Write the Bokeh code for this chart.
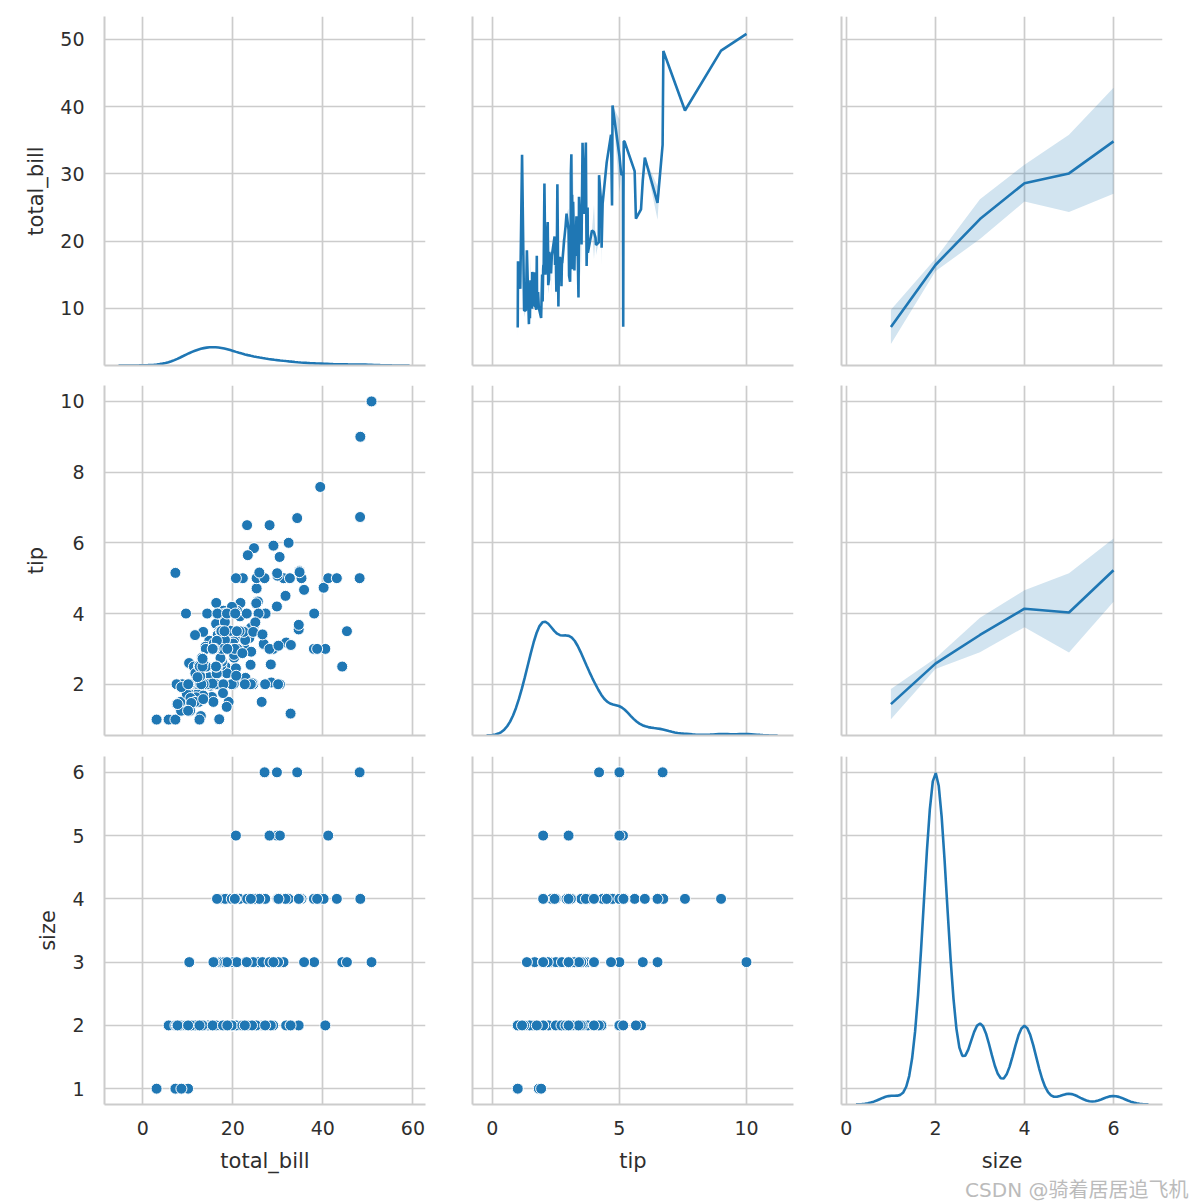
import numpy as np
from bokeh.plotting import figure
from bokeh.models import Range1d, FixedTicker, Title
from bokeh.layouts import column, row
from bokeh.embed import file_html
from bokeh.resources import INLINE

# ---------------- data (tips dataset, as shown in the picture) ----------------
total_bill = [
    16.99, 10.34, 21.01, 23.68, 24.59, 25.29, 8.77, 26.88, 15.04, 14.78,
    10.27, 35.26, 15.42, 18.43, 14.83, 21.58, 10.33, 16.29, 16.97, 20.65,
    17.92, 20.29, 15.77, 39.42, 19.82, 17.81, 13.37, 12.69, 21.70, 19.65,
    9.55, 18.35, 15.06, 20.69, 17.78, 24.06, 16.31, 16.93, 18.69, 31.27,
    16.04, 17.46, 13.94, 9.68, 30.40, 18.29, 22.23, 32.40, 28.55, 18.04,
    12.54, 10.29, 34.81, 9.94, 25.56, 19.49, 38.01, 26.41, 11.24, 48.27,
    20.29, 13.81, 11.02, 18.29, 17.59, 20.08, 16.45, 3.07, 20.23, 15.01,
    12.02, 17.07, 26.86, 25.28, 14.73, 10.51, 17.92, 27.20, 22.76, 17.29,
    19.44, 16.66, 10.07, 32.68, 15.98, 34.83, 13.03, 18.28, 24.71, 21.16,
    28.97, 22.49, 5.75, 16.32, 22.75, 40.17, 27.28, 12.03, 21.01, 12.46,
    11.35, 15.38, 44.30, 22.42, 20.92, 15.36, 20.49, 25.21, 18.24, 14.31,
    14.00, 7.25, 38.07, 23.95, 25.71, 17.31, 29.93, 10.65, 12.43, 24.08,
    11.69, 13.42, 14.26, 15.95, 12.48, 29.80, 8.52, 14.52, 11.38, 22.82,
    19.08, 20.27, 11.17, 12.26, 18.26, 8.51, 10.33, 14.15, 16.00, 13.16,
    17.47, 34.30, 41.19, 27.05, 16.43, 8.35, 18.64, 11.87, 9.78, 7.51,
    14.07, 13.13, 17.26, 24.55, 19.77, 29.85, 48.17, 25.00, 13.39, 16.49,
    21.50, 12.66, 16.21, 13.81, 17.51, 24.52, 20.76, 31.71, 10.59, 10.63,
    50.81, 15.81, 7.25, 31.85, 16.82, 32.90, 17.89, 14.48, 9.60, 34.63,
    34.65, 23.33, 45.35, 23.17, 40.55, 20.69, 20.90, 30.46, 18.15, 23.10,
    15.69, 19.81, 28.44, 15.48, 16.58, 7.56, 10.34, 43.11, 13.00, 13.51,
    18.71, 12.74, 13.00, 16.40, 20.53, 16.47, 26.59, 38.73, 24.27, 12.76,
    30.06, 25.89, 48.33, 13.27, 28.17, 12.90, 28.15, 11.59, 7.74, 30.14,
    12.16, 13.42, 8.58, 15.98, 13.42, 16.27, 10.09, 20.45, 13.28, 22.12,
    24.01, 15.69, 11.61, 10.77, 15.53, 10.07, 12.60, 32.83, 35.83, 29.03,
    27.18, 22.67, 17.82, 18.78,
]
tip = [
    1.01, 1.66, 3.50, 3.31, 3.61, 4.71, 2.00, 3.12, 1.96, 3.23,
    1.71, 5.00, 1.57, 3.00, 3.02, 3.92, 1.67, 3.71, 3.50, 3.35,
    4.08, 2.75, 2.23, 7.58, 3.18, 2.34, 2.00, 2.00, 4.30, 3.00,
    1.45, 2.50, 3.00, 2.45, 3.27, 3.60, 2.00, 3.07, 2.31, 5.00,
    2.24, 2.54, 3.06, 1.32, 5.60, 3.00, 5.00, 6.00, 2.05, 3.00,
    2.50, 2.60, 5.20, 1.56, 4.34, 3.51, 3.00, 1.50, 1.76, 6.73,
    3.21, 2.00, 1.98, 3.76, 2.64, 3.15, 2.47, 1.00, 2.01, 2.09,
    1.97, 3.00, 3.14, 5.00, 2.20, 1.25, 3.08, 4.00, 3.00, 2.71,
    3.00, 3.40, 1.83, 5.00, 2.03, 5.17, 2.00, 4.00, 5.85, 3.00,
    3.00, 3.50, 1.00, 4.30, 3.25, 4.73, 4.00, 1.50, 3.00, 1.50,
    2.50, 3.00, 2.50, 3.48, 4.08, 1.64, 4.06, 4.29, 3.76, 4.00,
    3.00, 1.00, 4.00, 2.55, 4.00, 3.50, 5.07, 1.50, 1.80, 2.92,
    2.31, 1.68, 2.50, 2.00, 2.52, 4.20, 1.48, 2.00, 2.00, 2.18,
    1.50, 2.83, 1.50, 2.00, 3.25, 1.25, 2.00, 2.00, 2.00, 2.75,
    3.50, 6.70, 5.00, 5.00, 2.30, 1.50, 1.36, 1.63, 1.73, 2.00,
    2.50, 2.00, 2.74, 2.00, 2.00, 5.14, 5.00, 3.75, 2.61, 2.00,
    3.50, 2.50, 2.00, 2.00, 3.00, 3.48, 2.24, 4.50, 1.61, 2.00,
    10.00, 3.16, 5.15, 3.18, 4.00, 3.11, 2.00, 2.00, 4.00, 3.55,
    3.68, 5.65, 3.50, 6.50, 3.00, 5.00, 3.50, 2.00, 3.50, 4.00,
    1.50, 4.19, 2.56, 2.02, 4.00, 1.44, 2.00, 5.00, 2.00, 2.00,
    4.00, 2.01, 2.00, 2.50, 4.00, 3.23, 3.41, 3.00, 2.03, 2.23,
    2.00, 5.16, 9.00, 2.50, 6.50, 1.10, 3.00, 1.50, 1.44, 3.09,
    2.20, 3.48, 1.92, 3.00, 1.58, 2.50, 2.00, 3.00, 2.72, 2.88,
    2.00, 3.00, 3.39, 1.47, 3.00, 1.25, 1.00, 1.17, 4.67, 5.92,
    2.00, 2.00, 1.75, 3.00,
]
size = [
    2, 3, 3, 2, 4, 4, 2, 4, 2, 2,
    2, 4, 2, 4, 2, 2, 3, 3, 3, 3,
    2, 2, 2, 4, 2, 4, 2, 2, 2, 2,
    2, 4, 2, 4, 2, 3, 3, 3, 3, 3,
    3, 2, 2, 2, 4, 2, 2, 4, 3, 2,
    2, 2, 4, 2, 4, 2, 4, 2, 2, 4,
    2, 2, 2, 4, 3, 3, 2, 1, 2, 2,
    2, 3, 2, 2, 2, 2, 2, 4, 2, 2,
    2, 2, 1, 2, 2, 4, 2, 2, 2, 2,
    2, 2, 2, 2, 2, 4, 2, 2, 2, 2,
    2, 2, 3, 2, 2, 2, 2, 2, 2, 2,
    2, 1, 3, 2, 3, 2, 4, 2, 2, 4,
    2, 2, 2, 2, 2, 6, 2, 2, 2, 3,
    2, 2, 2, 2, 2, 2, 2, 2, 2, 2,
    2, 6, 5, 6, 2, 2, 3, 2, 2, 2,
    2, 2, 3, 4, 4, 5, 6, 4, 2, 4,
    4, 2, 3, 2, 2, 3, 2, 4, 2, 2,
    3, 2, 2, 2, 2, 2, 2, 2, 2, 2,
    4, 2, 3, 4, 2, 5, 3, 5, 3, 3,
    2, 2, 2, 2, 2, 2, 2, 4, 2, 2,
    3, 2, 2, 2, 4, 3, 3, 4, 2, 2,
    3, 4, 4, 2, 3, 2, 5, 2, 2, 4,
    2, 2, 1, 3, 2, 2, 2, 4, 2, 2,
    4, 3, 2, 2, 2, 2, 2, 2, 3, 3,
    2, 2, 2, 2,
]

variables = ["total_bill", "tip", "size"]
columns_data = {"total_bill": total_bill, "tip": tip, "size": size}

x_tick_values = {"total_bill": [0, 20, 40, 60], "tip": [0, 5, 10], "size": [0, 2, 4, 6]}
y_tick_values = {"total_bill": [10, 20, 30, 40, 50], "tip": [2, 4, 6, 8, 10], "size": [1, 2, 3, 4, 5, 6]}
x_limits = {"total_bill": (-8.5, 62.8), "tip": (-0.78, 11.85), "size": (-0.11, 7.1)}
y_limits = {"total_bill": (1.5, 53.4), "tip": (0.55, 10.45), "size": (0.75, 6.25)}
watermark = "CSDN @骑着居居追飞机"

# ---------------- styles ----------------
BLUE = "#1f77b4"
GRID = "#cccccc"
TEXT = "#2e2e2e"
FONT = "DejaVu Sans"

col_w = [448, 369, 376]
col_bl = [104, 24, 24]
col_br = [23, 24, 31]
row_h = [375, 370, 456]
row_bt = [16, 10, 11]
row_bb = [10, 10, 97]


# ---------------- statistics ----------------
def kde_curve(v, gridsize=100, cut=3):
    v = np.asarray(v, float)
    n = len(v)
    q75, q25 = np.percentile(v, [75, 25])
    sigma = min(np.std(v, ddof=1), (q75 - q25) / 1.349)
    bw = 1.059 * sigma * n ** (-0.2)
    grid = np.linspace(v.min() - cut * bw, v.max() + cut * bw, gridsize)
    z = (grid[:, None] - v[None, :]) / bw
    dens = np.exp(-0.5 * z ** 2).sum(axis=1) / (n * bw * np.sqrt(2 * np.pi))
    return grid, dens


def mean_ci(xv, yv):
    xv = np.asarray(xv, float)
    yv = np.asarray(yv, float)
    ux = np.unique(xv)
    m, lo, hi = [], [], []
    for u in ux:
        g = yv[xv == u]
        mu = g.mean()
        if len(g) > 1:
            half = 1.96 * g.std() / np.sqrt(len(g))
            lo.append(max(mu - half, g.min()))
            hi.append(min(mu + half, g.max()))
        else:
            lo.append(mu)
            hi.append(mu)
        m.append(mu)
    return ux, np.array(m), np.array(lo), np.array(hi)


kdes = {v: kde_curve(columns_data[v]) for v in variables}
kmax = max(d.max() for _, d in kdes.values())
kmin = min(d.min() for _, d in kdes.values())
kde_top = kmax + 0.05 * (kmax - kmin)

xr = {v: Range1d(*x_limits[v]) for v in variables}
yr = {v: Range1d(*y_limits[v]) for v in variables}

rows = []
for i, yv in enumerate(variables):
    figs = []
    for j, xv in enumerate(variables):
        p = figure(
            width=col_w[j], height=row_h[i],
            x_range=xr[xv], y_range=yr[yv],
            output_backend="svg", toolbar_location=None, tools="",
            min_border_left=col_bl[j], min_border_right=col_br[j],
            min_border_top=row_bt[i], min_border_bottom=row_bb[i],
            background_fill_color="white", border_fill_color="white",
            outline_line_color=None,
        )
        # axes (spines) and tick labels
        p.xaxis.ticker = FixedTicker(ticks=x_tick_values[xv] if i == 2 else [], minor_ticks=[])
        p.yaxis.ticker = FixedTicker(ticks=y_tick_values[yv] if j == 0 else [], minor_ticks=[])
        for ax in p.axis:
            ax.axis_line_color = GRID
            ax.axis_line_width = 2
            ax.major_tick_line_color = None
            ax.minor_tick_line_color = None
            ax.major_tick_out = 0
            ax.major_tick_in = 0
            ax.minor_tick_out = 0
            ax.major_label_text_font = FONT
            ax.major_label_text_font_size = "19px"
            ax.major_label_text_color = TEXT
            ax.axis_label_text_font = FONT
            ax.axis_label_text_font_size = "21px"
            ax.axis_label_text_font_style = "normal"
            ax.axis_label_text_color = TEXT
        p.xaxis.axis_label_standoff = 11
        p.yaxis.axis_label_standoff = 9
        p.xaxis.major_label_standoff = 16 if i == 2 else 0
        p.yaxis.major_label_standoff = 20 if j == 0 else 0
        if i == 2:
            p.xaxis.axis_label = xv
        if j == 0:
            p.yaxis.axis_label = yv
        # grid
        p.xgrid.ticker = FixedTicker(ticks=x_tick_values[xv], minor_ticks=[])
        p.ygrid.ticker = FixedTicker(ticks=y_tick_values[yv], minor_ticks=[])
        p.xgrid.grid_line_color = GRID
        p.ygrid.grid_line_color = GRID
        p.xgrid.grid_line_width = 1.7
        p.ygrid.grid_line_width = 1.7

        if i == j:
            gx, gd = kdes[xv]
            p.extra_y_ranges = {"kde": Range1d(0, kde_top)}
            p.line(gx, gd, y_range_name="kde", line_color=BLUE, line_width=2.6)
        elif i < j:
            ux, m, lo, hi = mean_ci(columns_data[xv], columns_data[yv])
            p.varea(x=ux, y1=lo, y2=hi, fill_color=BLUE, fill_alpha=0.2)
            p.line(ux, m, line_color=BLUE, line_width=2.6)
        else:
            p.scatter(columns_data[xv], columns_data[yv], size=11,
                      fill_color=BLUE, line_color="white", line_width=1)

        if i == 2 and j == 2:
            p.add_layout(Title(text=watermark, align="right", offset=-26, standoff=0,
                               text_font="DejaVu Sans, Noto Sans CJK SC", text_font_size="20px",
                               text_font_style="normal", text_color="#bbbbbb"), "below")
        figs.append(p)
    rows.append(row(*figs))

layout = column(*rows)
open("out.html", "w").write(file_html(layout, INLINE))
